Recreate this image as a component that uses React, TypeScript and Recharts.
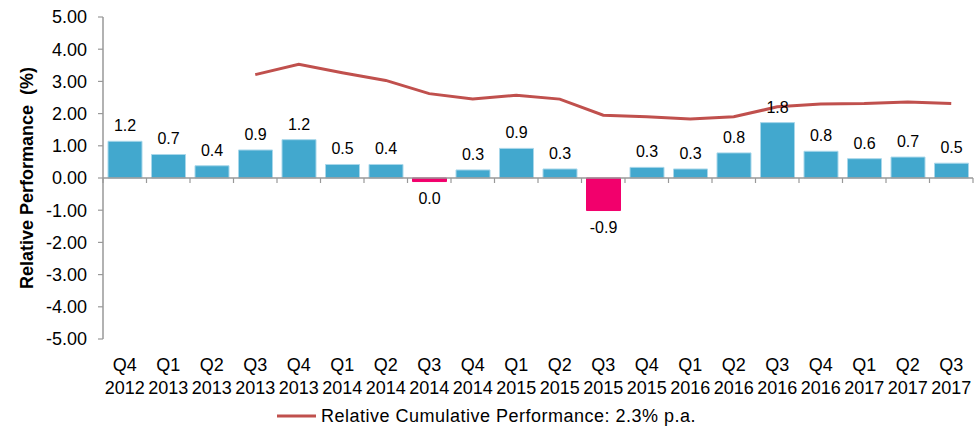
import { ComposedChart, Bar, Line, XAxis, YAxis, Cell, LabelList, ReferenceLine, Legend } from 'recharts';

const QUARTERS = ['Q4', 'Q1', 'Q2', 'Q3', 'Q4', 'Q1', 'Q2', 'Q3', 'Q4', 'Q1', 'Q2', 'Q3', 'Q4', 'Q1', 'Q2', 'Q3', 'Q4', 'Q1', 'Q2', 'Q3'];
const YEARS = ['2012', '2013', '2013', '2013', '2013', '2014', '2014', '2014', '2014', '2015', '2015', '2015', '2015', '2016', '2016', '2016', '2016', '2017', '2017', '2017'];
const RELATIVE = [1.14, 0.73, 0.38, 0.87, 1.19, 0.42, 0.42, -0.11, 0.25, 0.92, 0.28, -1.01, 0.33, 0.28, 0.78, 1.72, 0.83, 0.6, 0.65, 0.46];
const BAR_LABELS = ['1.2', '0.7', '0.4', '0.9', '1.2', '0.5', '0.4', '0.0', '0.3', '0.9', '0.3', '-0.9', '0.3', '0.3', '0.8', '1.8', '0.8', '0.6', '0.7', '0.5'];
const CUMULATIVE = [null, null, null, 3.21, 3.53, 3.27, 3.03, 2.62, 2.45, 2.57, 2.45, 1.95, 1.9, 1.83, 1.9, 2.21, 2.3, 2.31, 2.36, 2.31];
const Y_TICKS = [5, 4, 3, 2, 1, 0, -1, -2, -3, -4, -5];
const LEGEND_TEXT = 'Relative Cumulative Performance: 2.3% p.a.';

const FONT = '"Liberation Sans", Arial, sans-serif';
const BLUE = '#42A8CE';
const PINK = '#F2006C';
const RED = '#C0504D';
const AXIS = '#999999';

const data = QUARTERS.map((q, i) => ({
  key: i,
  q,
  year: YEARS[i],
  rel: RELATIVE[i],
  label: BAR_LABELS[i],
  cum: CUMULATIVE[i],
}));

function QuarterTick(props: any) {
  const { x, y, payload } = props;
  const i = payload.value;
  return (
    <g>
      <text x={x} y={y + 32} textAnchor="middle" fontSize={18} fontFamily={FONT} fill="#000">{QUARTERS[i]}</text>
      <text x={x} y={y + 55} textAnchor="middle" fontSize={18} fontFamily={FONT} fill="#000">{YEARS[i]}</text>
    </g>
  );
}

// zero line with small tick marks between the categories
function ZeroAxis(props: any) {
  const { x1, y1, x2, y2 } = props;
  const n = QUARTERS.length;
  const step = (x2 - x1) / n;
  const marks = [];
  for (let i = 0; i <= n; i++) {
    const tx = x1 + step * i;
    marks.push(<line key={i} x1={tx} y1={y1} x2={tx} y2={y1 + 5} stroke={AXIS} strokeWidth={1.2} />);
  }
  return (
    <g>
      <line x1={x1} y1={y1} x2={x2} y2={y2} stroke={AXIS} strokeWidth={1.5} />
      {marks}
    </g>
  );
}

function BarLabel(props: any) {
  const { x, y, width, height, index } = props;
  const top = Math.min(y, y + height);
  const bottom = Math.max(y, y + height);
  const neg = RELATIVE[index] < 0;
  return (
    <text
      x={x + width / 2}
      y={neg ? bottom + 22 : top - 10}
      textAnchor="middle"
      fontSize={16}
      fontFamily={FONT}
      fill="#000"
    >
      {BAR_LABELS[index]}
    </text>
  );
}

function LegendContent() {
  return (
    <div style={{ display: 'flex', justifyContent: 'center', alignItems: 'center', height: 34, fontFamily: FONT, fontSize: 18, letterSpacing: 0.5, color: '#000' }}>
      <svg width={39} height={4} style={{ marginRight: 5 }}>
        <line x1={0} y1={2} x2={39} y2={2} stroke={RED} strokeWidth={3} />
      </svg>
      <span>{LEGEND_TEXT}</span>
    </div>
  );
}

export default function App() {
  return (
    <div style={{ position: 'absolute', left: 0, top: 0, background: '#fff' }}>
      <ComposedChart width={977} height={433} data={data} margin={{ top: 17, right: 4, bottom: 0, left: 0 }}>
        <XAxis
          dataKey="key"
          axisLine={false}
          tickLine={false}
          tickSize={0}
          tickMargin={0}
          height={60}
          interval={0}
          tick={<QuarterTick />}
        />
        <YAxis
          domain={[-5, 5]}
          ticks={Y_TICKS}
          width={103}
          tickFormatter={(v: number) => v.toFixed(2)}
          tick={{ fill: '#000', fontSize: 18, fontFamily: FONT }}
          tickSize={5}
          tickMargin={11}
          stroke={AXIS}
          axisLine={{ stroke: AXIS, strokeWidth: 1.5 }}
          tickLine={{ stroke: AXIS, strokeWidth: 1.2 }}
          interval={0}
          allowDataOverflow
          label={{
            content: ({ viewBox }: any) => (
              <text
                x={viewBox.x + 27}
                y={viewBox.y + viewBox.height / 2}
                transform={`rotate(-90, ${viewBox.x + 27}, ${viewBox.y + viewBox.height / 2})`}
                textAnchor="middle"
                dominantBaseline="central"
                fontSize={18}
                fontWeight="bold"
                fontFamily={FONT}
                fill="#000"
                style={{ whiteSpace: 'pre' }}
              >
                Relative Performance  (%)
              </text>
            ),
          }}
        />
        <Bar dataKey="rel" barSize={34} isAnimationActive={false} strokeWidth={1}>
          {data.map((d) => (
            <Cell key={d.key} fill={d.rel < 0 ? PINK : BLUE} stroke={d.rel < 0 ? PINK : '#A8D7EA'} />
          ))}
          <LabelList dataKey="label" content={<BarLabel />} />
        </Bar>
        <ReferenceLine y={0} shape={<ZeroAxis />} />
        <Line dataKey="cum" type="linear" stroke={RED} strokeWidth={3} dot={false} activeDot={false} isAnimationActive={false} connectNulls={false} />
        <Legend verticalAlign="bottom" content={<LegendContent />} />
      </ComposedChart>
    </div>
  );
}
